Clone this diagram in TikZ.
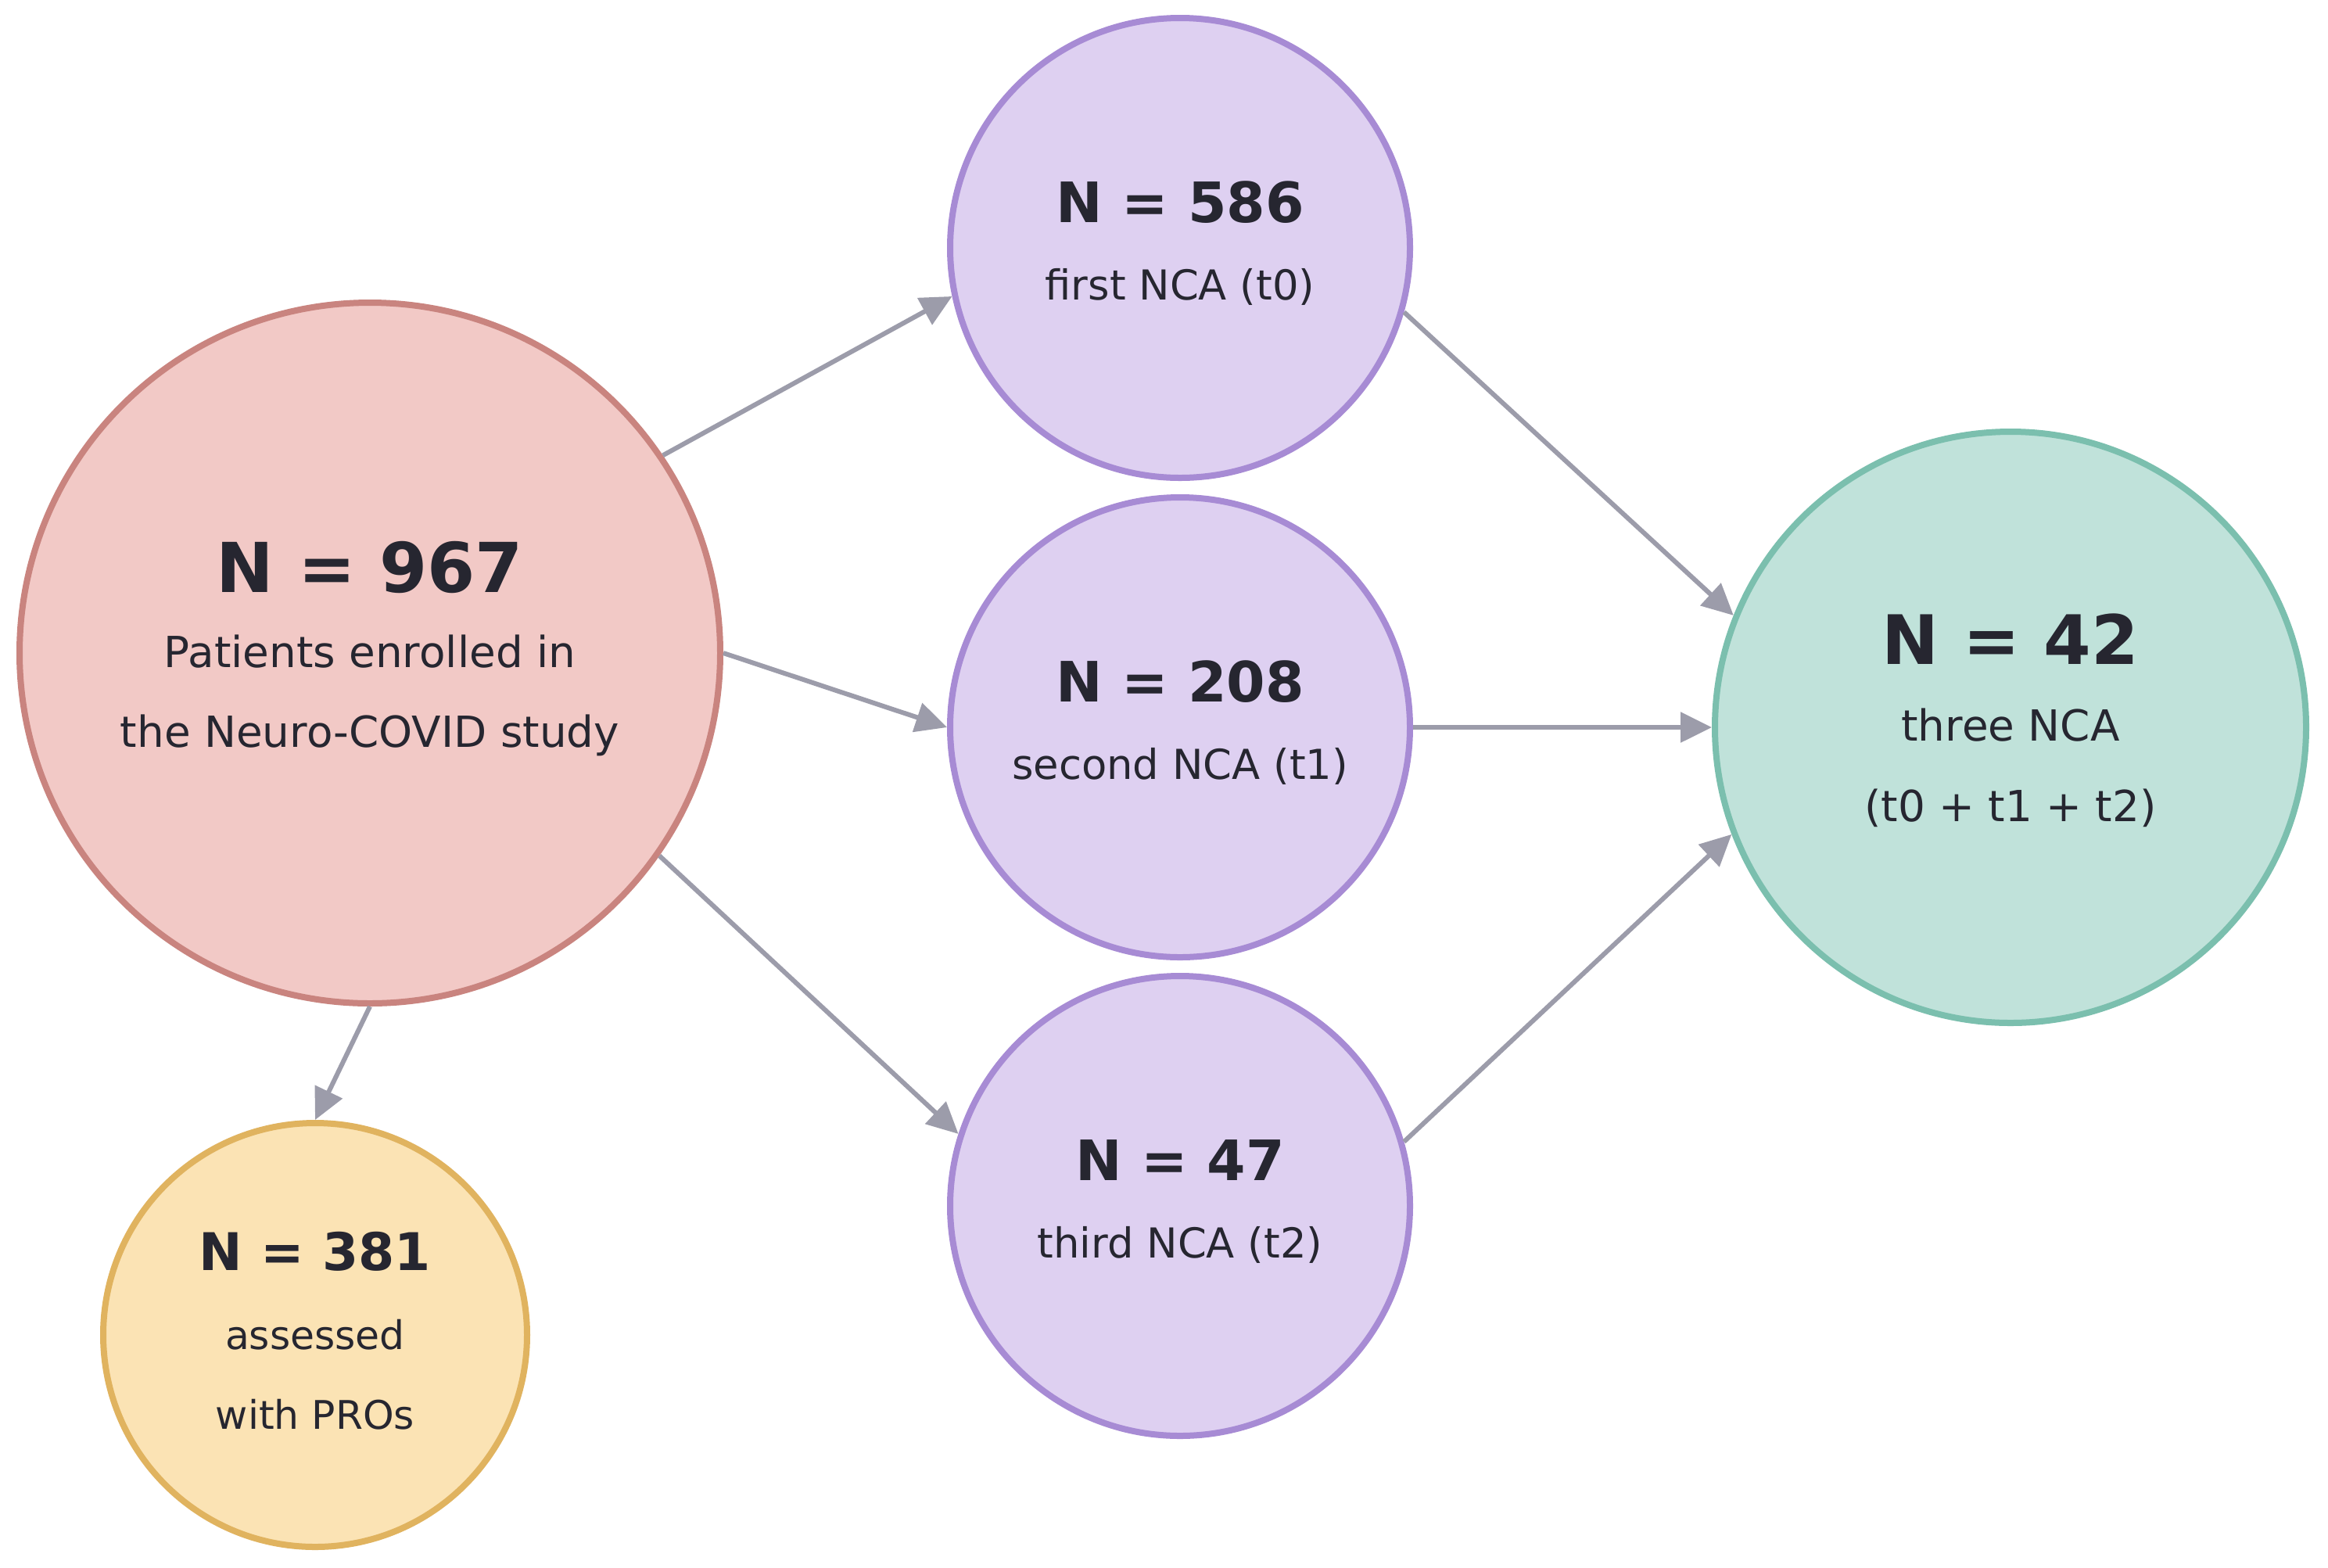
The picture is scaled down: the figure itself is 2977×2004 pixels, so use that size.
\documentclass[tikz,border=0pt]{standalone}
\usepackage{fontspec}
\setmainfont{DejaVu Sans}
\usepackage{tikz}
\usetikzlibrary{arrows.meta}

\definecolor{txtdark}{HTML}{262630}
\definecolor{flowgray}{HTML}{9C9CAA}
\definecolor{enrolfill}{HTML}{F2C9C6}
\definecolor{enrolline}{HTML}{C9847F}
\definecolor{ncafill}{HTML}{DED0F1}
\definecolor{ncaline}{HTML}{A78BD4}
\definecolor{threefill}{HTML}{C0E2DA}
\definecolor{threeline}{HTML}{7BBFAE}
\definecolor{prosfill}{HTML}{FBE3B4}
\definecolor{prosline}{HTML}{E0B35F}

\newcommand\bignum[2]{{\fontsize{#1}{#1}\selectfont\bfseries #2}}

\begin{document}
\begin{tikzpicture}[x=0.25pt,y=0.25pt,yscale=-1,xscale=1,
  bubble/.style={circle,draw,line width=2pt,inner sep=0pt,align=center,text=txtdark},
  flow/.style={draw=flowgray,line width=1.5pt,-{Triangle[length=10pt,width=9.5pt]}}]
\useasboundingbox (0,0) rectangle (2977,2004);

%Circle: enrolled patients
\node[bubble,draw=enrolline,fill=enrolfill,minimum size=224pt,text depth=5.6pt,font=\fontsize{13.7}{25.5}\selectfont] (enrolled) at (473,835) {\bignum{22}{N = 967}\\[-1.7pt]Patients enrolled in\\the Neuro-COVID study};
%Circle: first NCA
\node[bubble,draw=ncaline,fill=ncafill,minimum size=147pt,text depth=4.6pt,font=\fontsize{13.2}{25.5}\selectfont] (first) at (1509,317) {\bignum{17.8}{N = 586}\\[-0.75pt]first NCA (t0)};
%Circle: second NCA
\node[bubble,draw=ncaline,fill=ncafill,minimum size=147pt,text depth=4.6pt,font=\fontsize{13.2}{25.5}\selectfont] (second) at (1509,930) {\bignum{17.8}{N = 208}\\[-0.75pt]second NCA (t1)};
%Circle: third NCA
\node[bubble,draw=ncaline,fill=ncafill,minimum size=147pt,text depth=4.6pt,font=\fontsize{13.2}{25.5}\selectfont] (third) at (1509,1542) {\bignum{17.8}{N = 47}\\[-0.75pt]third NCA (t2)};
%Circle: all three NCA
\node[bubble,draw=threeline,fill=threefill,minimum size=189pt,text depth=6pt,font=\fontsize{13.7}{25.75}\selectfont] (three) at (2571,930) {\bignum{21.8}{N = 42}\\[-1.25pt]three NCA\\(t0 + t1 + t2)};
%Circle: PROs
\node[bubble,draw=prosline,fill=prosfill,minimum size=135.5pt,text depth=2.8pt,font=\fontsize{12.6}{25.5}\selectfont] (pros) at (403,1707) {\bignum{16.6}{N = 381}\\[-0.35pt]assessed\\with PROs};

%Arrows
\draw[flow] (enrolled.34) -- (first.192.4);
\draw[flow] (enrolled.0) -- (second.180);
\draw[flow] (enrolled.-35.2) -- (third.162);
\draw[flow] (enrolled.-90) -- (pros.90);
\draw[flow] (first.-16.7) -- (three.158.4);
\draw[flow] (second.0) -- (three.180);
\draw[flow] (third.16.3) -- (three.201.6);

\end{tikzpicture}
\end{document}
